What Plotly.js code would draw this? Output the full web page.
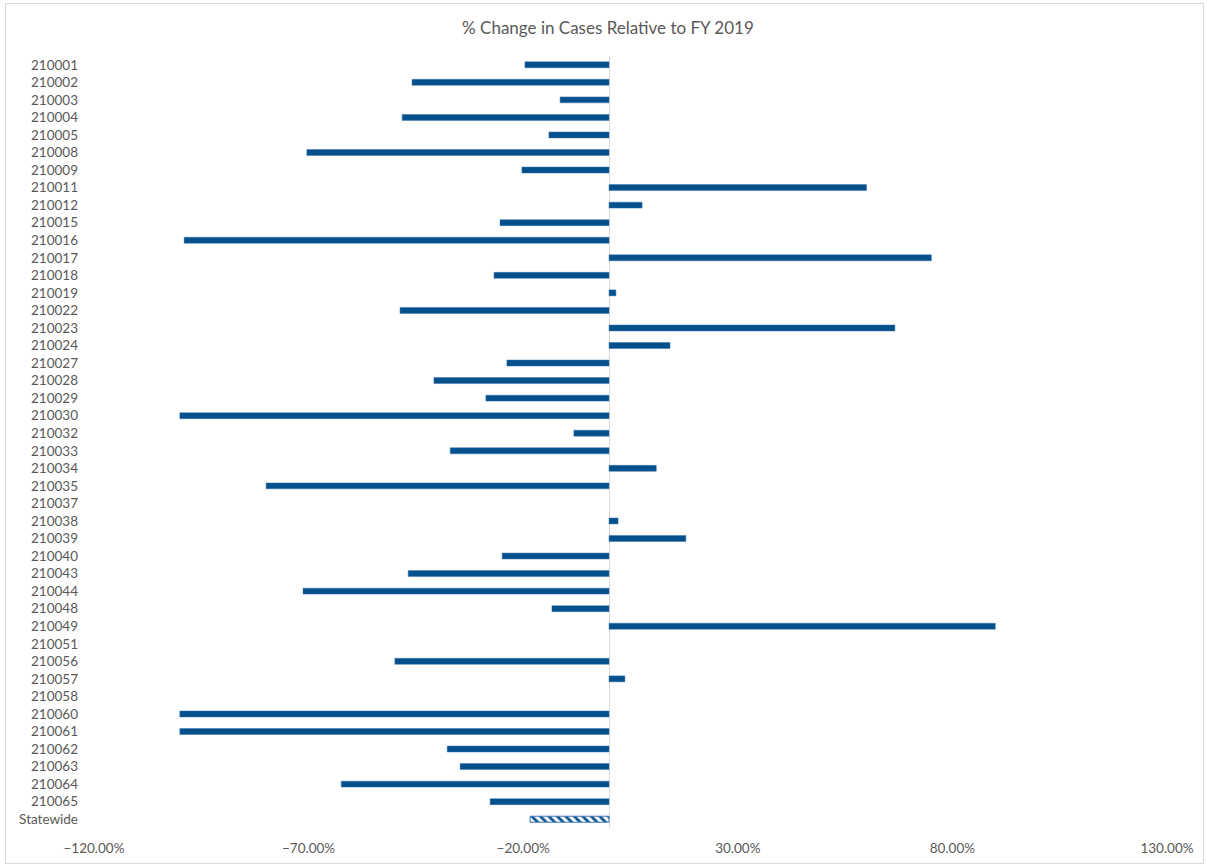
<!DOCTYPE html>
<html>
<head>
<meta charset="utf-8">
<script src="https://cdn.plot.ly/plotly-3.0.1.min.js"></script>
<style>
  html, body { margin: 0; padding: 0; background: #ffffff; }
  #wrap { position: relative; width: 1207px; height: 867px; }
  #chart { position: absolute; left: 0; top: 0; width: 1207px; height: 867px; }
  #frame { position: absolute; left: 5px; top: 3px; width: 1199px; height: 861px;
           border: 1px solid #d9d9d9; pointer-events: none; box-sizing: border-box; }
</style>
</head>
<body>
<div id="wrap">
  <div id="chart"></div>
  <div id="frame"></div>
</div>
<script>
// Hospital IDs, top to bottom
const hospitals = [
  "210001","210002","210003","210004","210005","210008","210009","210011",
  "210012","210015","210016","210017","210018","210019","210022","210023",
  "210024","210027","210028","210029","210030","210032","210033","210034",
  "210035","210037","210038","210039","210040","210043","210044","210048",
  "210049","210051","210056","210057","210058","210060","210061","210062",
  "210063","210064","210065"
];

// % change in cases relative to FY 2019 (fractions); null = no bar
const hospitalChange = [
  -0.196, -0.459, -0.114, -0.482, -0.140, -0.704, -0.203,  0.600,
   0.077, -0.254, -0.990,  0.751, -0.268,  0.016, -0.487,  0.666,
   0.142, -0.238, -0.408, -0.287, -1.000, -0.082, -0.370,  0.110,
  -0.799,  null,   0.021,  0.179, -0.249, -0.468, -0.713, -0.133,
   0.900,  null,  -0.499,  0.037,  null,  -1.000, -1.000, -0.377,
  -0.347, -0.624, -0.277
];

const statewideLabel = ["Statewide"];
const statewideChange = [-0.184];

const tickValues = [-1.2, -0.7, -0.2, 0.3, 0.8, 1.3];

const barBlue = "#03508c";
const textGrey = "#595959";

const traces = [
  {
    type: "bar",
    orientation: "h",
    y: hospitals,
    x: hospitalChange,
    marker: { color: barBlue, line: { color: "#3a74ad", width: 0.5 } },
    hoverinfo: "y+x"
  },
  {
    type: "bar",
    orientation: "h",
    y: statewideLabel,
    x: statewideChange,
    marker: {
      color: "#ffffff",
      line: { color: "#3f74b8", width: 1 },
      pattern: { shape: "\\", fgcolor: barBlue, bgcolor: "#ffffff", size: 6, solidity: 0.45 }
    },
    hoverinfo: "y+x"
  }
];

const layout = {
  width: 1207,
  height: 867,
  margin: { l: 94, r: 40, t: 56, b: 39 },
  paper_bgcolor: "#ffffff",
  plot_bgcolor: "#ffffff",
  showlegend: false,
  barmode: "overlay",
  bargap: 0.66,
  font: { family: "Lato, 'Open Sans', sans-serif", size: 13.5, color: textGrey },
  title: {
    text: "% Change in Cases Relative to FY 2019",
    font: { family: "Lato, 'Open Sans', sans-serif", size: 17, color: textGrey },
    x: 0.5037, xref: "container", xanchor: "center",
    y: 27, yref: "container", yanchor: "middle"
  },
  xaxis: {
    range: [-1.2, 1.3],
    tickvals: tickValues,
    tickformat: ".2%",
    showgrid: false,
    zeroline: true,
    zerolinecolor: "#d9d9d9",
    zerolinewidth: 1,
    showline: false,
    ticks: "outside",
    ticklen: 8,
    tickcolor: "rgba(0,0,0,0)",
    fixedrange: true
  },
  yaxis: {
    type: "category",
    categoryorder: "array",
    categoryarray: hospitals.concat(statewideLabel),
    autorange: "reversed",
    showgrid: false,
    zeroline: false,
    showline: false,
    ticks: "",
    ticklabelstandoff: 15,
    fixedrange: true
  }
};

Plotly.newPlot("chart", traces, layout, { displayModeBar: false, staticPlot: true });
</script>
</body>
</html>
